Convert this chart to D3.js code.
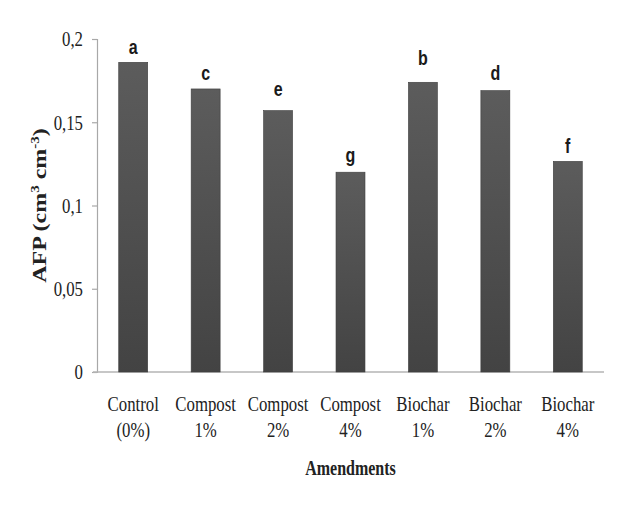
<!DOCTYPE html>
<html>
<head>
<meta charset="utf-8">
<script src="https://cdn.jsdelivr.net/npm/d3@7"></script>
<style>
  html, body { margin: 0; padding: 0; background: #fff; }
  svg { display: block; }
</style>
</head>
<body>
<script>
// Air-filled porosity by soil amendment
const categories = [
  ["Control", "(0%)"],
  ["Compost", "1%"],
  ["Compost", "2%"],
  ["Compost", "4%"],
  ["Biochar", "1%"],
  ["Biochar", "2%"],
  ["Biochar", "4%"]
];
const afp = [0.186, 0.170, 0.157, 0.120, 0.174, 0.169, 0.1265];
const letters = ["a", "c", "e", "g", "b", "d", "f"];
// height (in AFP units) at which each significance letter sits
const letterLevels = [0.191, 0.1754, 0.1658, 0.1262, 0.1844, 0.1754, 0.1314];
const yTicks = [0, 0.05, 0.1, 0.15, 0.2];
const yTickLabels = ["0", "0,05", "0,1", "0,15", "0,2"];

const W = 617, H = 508;
const m = { left: 97, right: 13, top: 39, bottom: 136 };
const squeeze = 0.8; // narrow text rendering
const SERIF = '"Liberation Serif", "Times New Roman", serif';
const SANS = '"Liberation Sans", Arial, sans-serif';

const svg = d3.select("body").append("svg")
  .attr("width", W).attr("height", H);

const defs = svg.append("defs");
const grad = defs.append("linearGradient")
  .attr("id", "barFill").attr("x1", 0).attr("y1", 0).attr("x2", 0).attr("y2", 1);
grad.append("stop").attr("offset", "0%").attr("stop-color", "#5c5c5c");
grad.append("stop").attr("offset", "100%").attr("stop-color", "#434343");

const x = d3.scaleBand()
  .domain(d3.range(categories.length))
  .range([m.left, W - m.right])
  .paddingInner(0.6).paddingOuter(0.3);

const y = d3.scaleLinear().domain([0, 0.2]).range([H - m.bottom, m.top]);

// y axis
const yAxis = d3.axisLeft(y).tickValues(yTicks).tickSizeOuter(0).tickSize(5)
  .tickFormat((d, i) => yTickLabels[i]);
const gy = svg.append("g").attr("transform", `translate(${m.left},0)`).call(yAxis);
gy.select(".domain").attr("stroke", "#a8a8a8").attr("stroke-width", 1.2);
gy.selectAll(".tick line").attr("stroke", "#a8a8a8").attr("stroke-width", 1.2);
gy.selectAll(".tick text")
  .attr("x", null).attr("dy", "0.33em")
  .attr("transform", `translate(-14,0) scale(${squeeze},1)`)
  .style("font-family", SERIF).style("font-size", "21px")
  .attr("fill", "#222").attr("text-anchor", "end");

// baseline
svg.append("line")
  .attr("x1", m.left - 4).attr("x2", W - m.right)
  .attr("y1", y(0)).attr("y2", y(0))
  .attr("stroke", "#b4b4b4").attr("stroke-width", 1.6);

// bars
svg.append("g").selectAll("rect").data(afp).join("rect")
  .attr("x", (d, i) => x(i))
  .attr("width", x.bandwidth())
  .attr("y", d => y(d))
  .attr("height", d => y(0) - y(d))
  .attr("fill", "url(#barFill)")
  .attr("stroke", "#3d3d3d").attr("stroke-width", 0.6);

// significance letters
svg.append("g").selectAll("text").data(letters).join("text")
  .attr("transform", (d, i) => `translate(${x(i) + x.bandwidth() / 2},${y(letterLevels[i])}) scale(${squeeze},1)`)
  .attr("text-anchor", "middle")
  .style("font-family", SANS).style("font-weight", "bold").style("font-size", "20px")
  .attr("fill", "#1a1a1a")
  .text(d => d);

// category labels
const cat = svg.append("g").selectAll("text").data(categories).join("text")
  .attr("transform", (d, i) => `translate(${x(i) + x.bandwidth() / 2},411) scale(${squeeze},1)`)
  .attr("text-anchor", "middle")
  .style("font-family", SERIF).style("font-size", "21px")
  .attr("fill", "#222");
cat.append("tspan").attr("x", 0).attr("y", 0).text(d => d[0]);
cat.append("tspan").attr("x", 0).attr("y", 26).text(d => d[1]);

// x axis title
svg.append("text")
  .attr("transform", `translate(${(m.left + W - m.right) / 2},475) scale(${squeeze},1)`)
  .attr("text-anchor", "middle")
  .style("font-family", SERIF).style("font-weight", "bold").style("font-size", "20px")
  .attr("fill", "#222")
  .text("Amendments");

// y axis title
const yt = svg.append("text")
  .attr("transform", `translate(46,${(y(0) + y(0.2)) / 2}) scale(${squeeze},1) rotate(-90)`)
  .attr("text-anchor", "middle")
  .style("font-family", SERIF).style("font-weight", "bold").style("font-size", "24px")
  .attr("fill", "#222");
yt.append("tspan").text("AFP (cm");
yt.append("tspan").style("font-size", "15px").attr("dy", -9).text("3");
yt.append("tspan").attr("dy", 9).text(" cm");
yt.append("tspan").style("font-size", "15px").attr("dy", -9).text("-3");
yt.append("tspan").attr("dy", 9).text(")");
</script>
</body>
</html>
